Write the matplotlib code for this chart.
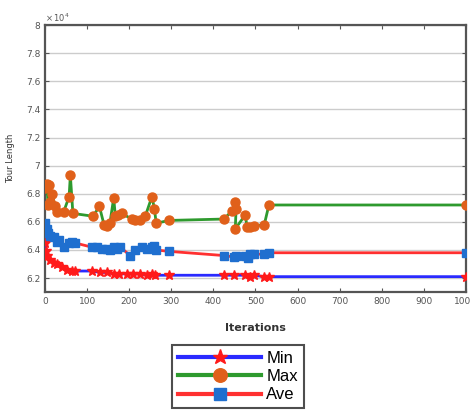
import numpy as np
import matplotlib
matplotlib.use('Agg')
import matplotlib.pyplot as plt
from matplotlib.ticker import FuncFormatter

# tour length values in units of 1e4
min_x = [0, 2, 5, 12, 20, 28, 40, 52, 64, 71, 111, 131, 147, 163, 175, 194, 210, 226, 242, 254,
         262, 294, 425, 448, 476, 488, 496, 521, 532, 1000]
min_y = [6.45, 6.39, 6.36, 6.33, 6.31, 6.30, 6.28, 6.26, 6.25, 6.25, 6.25, 6.24, 6.24, 6.23, 6.23,
         6.23, 6.23, 6.23, 6.22, 6.23, 6.22, 6.22, 6.22, 6.22, 6.22, 6.21, 6.22, 6.21, 6.21, 6.21]

max_x = [0, 4, 7, 10, 12, 16, 24, 28, 44, 57, 60, 66, 114, 129, 140, 148, 154, 163, 167, 174,
         182, 206, 214, 226, 238, 254, 260, 264, 294, 425, 445, 451, 454, 452, 476, 480, 488, 496,
         521, 532, 1000]
max_y = [6.84, 6.87, 6.72, 6.86, 6.74, 6.80, 6.71, 6.67, 6.67, 6.78, 6.93, 6.66, 6.64, 6.71, 6.58,
         6.57, 6.59, 6.77, 6.64, 6.65, 6.66, 6.62, 6.61, 6.61, 6.64, 6.78, 6.69, 6.59, 6.61, 6.62,
         6.68, 6.74, 6.69, 6.55, 6.65, 6.56, 6.56, 6.57, 6.58, 6.72, 6.72]

ave_x = [0, 4, 7, 12, 20, 28, 33, 44, 56, 64, 71, 111, 123, 135, 147, 155, 163, 171, 179, 202,
         214, 230, 242, 254, 260, 264, 294, 426, 448, 454, 476, 482, 488, 496, 521, 532, 1000]
ave_y = [6.59, 6.55, 6.52, 6.50, 6.49, 6.46, 6.47, 6.42, 6.45, 6.46, 6.45, 6.42, 6.42, 6.41, 6.41,
         6.40, 6.42, 6.41, 6.42, 6.36, 6.40, 6.42, 6.41, 6.42, 6.43, 6.40, 6.39, 6.36, 6.35, 6.36,
         6.36, 6.34, 6.37, 6.37, 6.37, 6.38, 6.38]

fig = plt.figure(figsize=(4.7, 4.12), dpi=100)
ax = fig.add_axes([0.096, 0.291, 0.895, 0.648])

ax.plot(min_x, min_y, color='#2a2aff', lw=2, marker='*', ms=7.5,
        mfc='#ff1a1a', mec='#ff1a1a', label='Min', zorder=3)
ax.plot(max_x, max_y, color='#2e9a2e', lw=2, marker='o', ms=6.5,
        mfc='#e0601a', mec='#e0601a', label='Max', zorder=3)
ax.plot(ave_x, ave_y, color='#ff3030', lw=2, marker='s', ms=5.5,
        mfc='#1f6fcf', mec='#1f6fcf', label='Ave', zorder=3)

ax.set_xlim(0, 1000)
ax.set_ylim(6.1, 8.0)
ax.set_xticks(np.arange(0, 1001, 100))
ax.set_yticks(np.arange(6.2, 8.01, 0.2))
ax.yaxis.set_major_formatter(FuncFormatter(lambda v, p: '%g' % round(v, 1)))
ax.grid(axis='y', color='#cccccc', lw=1)
ax.tick_params(direction='in', top=True, right=True, labelsize=6.5,
               labelcolor='#555555', color='#555555', length=3)
for s in ax.spines.values():
    s.set_color('#555555')
    s.set_linewidth(1.6)

ax.set_xlabel('Iterations', fontsize=8, fontweight='bold', color='#333333', labelpad=12)
ax.set_ylabel('Tour Length', fontsize=6, color='#333333', labelpad=8)
ax.text(0.0, 1.005, r'$\times\,10^4$', transform=ax.transAxes, fontsize=6,
        color='#555555', ha='left', va='bottom')

leg = fig.legend(loc='center', bbox_to_anchor=(0.506, 0.086),
                 prop={'family': 'Liberation Sans', 'size': 12},
                 fancybox=False, edgecolor='#222222', labelspacing=0.2,
                 handlelength=5.0, handletextpad=0.3, borderpad=0.35, markerscale=1.5)
leg.get_frame().set_linewidth(1.5)
for line in leg.get_lines():
    line.set_linewidth(3)

fig.savefig('out.png', dpi=100)
